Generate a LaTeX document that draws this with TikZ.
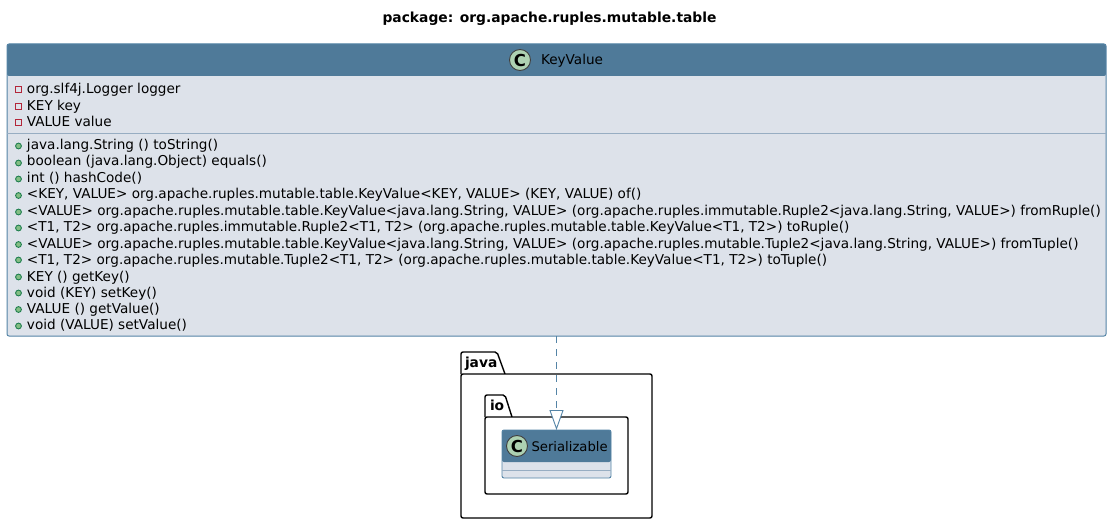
\documentclass[tikz,border=0pt]{standalone}
\usepackage{fontspec}
\setmainfont{DejaVu Sans}
\usepackage{tikz}
\usetikzlibrary{arrows.meta}
\definecolor{headblue}{HTML}{4F7A99}
\definecolor{bodyblue}{HTML}{DDE2EA}
\definecolor{lineblue}{HTML}{5484A6}
\definecolor{sepblue}{HTML}{97ADC2}
\definecolor{spotgreen}{HTML}{ADD1B2}
\definecolor{dotgreen}{HTML}{84BE84}
\definecolor{dotline}{HTML}{1F7F4F}
\definecolor{boxred}{HTML}{B3263A}
\begin{document}
\begin{tikzpicture}[x=1pt,y=-1pt]
	\tikzstyle{every node}=[inner sep=0pt, outer sep=0pt, font=\fontsize{13.6}{15}\selectfont]
	\tikzstyle{member}=[anchor=base west]
	\tikzstyle{pubdot}=[circle, minimum width=5.8pt, draw=dotline, fill=dotgreen, line width=.9pt]
	\tikzstyle{privbox}=[rectangle, minimum width=5.8pt, minimum height=5.8pt, draw=boxred, fill=bodyblue, line width=.8pt]
	\tikzstyle{spot}=[circle, minimum width=21pt, draw=black!75, fill=spotgreen, line width=.9pt, font=\fontsize{16.5}{15}\bfseries\selectfont]
	\tikzstyle{pkgbox}=[rectangle, draw=black, fill=white, rounded corners=2pt, line width=1.4pt]
	\tikzstyle{pkgtab}=[draw=black, fill=white, rounded corners=2pt, line width=1.4pt]
	\tikzstyle{pkgname}=[anchor=base west, font=\fontsize{13.8}{15}\bfseries\selectfont]
	\useasboundingbox (0,0) rectangle (1112,524);
	\draw (549.5,19) node (title) [font=\fontsize{13.85}{15}\bfseries\selectfont] {package: org.apache.ruples.mutable.table};
	% packages
	\draw[pkgtab] (461,374) -- (461,352) -- (497,352) -- (505,374);
	\draw (556.5,446) node (java) [pkgbox, minimum width=191pt, minimum height=144pt] {};
	\draw (465,367) node (javaname) [pkgname] {java};
	\draw[pkgtab] (485,417) -- (485,395) -- (505,395) -- (512,417);
	\draw (556.5,455.5) node (io) [pkgbox, minimum width=143pt, minimum height=77pt] {};
	\draw (490,410) node (ioname) [pkgname] {io};
	% classes
	\draw (556.5,454) node (serializable) [rectangle, draw=lineblue, fill=bodyblue, rounded corners=2pt, line width=.9pt, minimum width=109pt, minimum height=48pt,
		path picture={\fill[headblue] (path picture bounding box.north west) rectangle ([yshift=-32pt]path picture bounding box.north east);}] {};
	\draw (517,446) node (serspot) [spot] {C};
	\draw (531.5,451) node (sername) [member, font=\fontsize{13.2}{15}\selectfont] {Serializable};
	\coordinate (serl) at (502,470);
	\coordinate (serr) at (611,470);
	\draw[sepblue, line width=.7pt] (serl) -- (serr);
	\draw (556.5,190) node (keyvalue) [rectangle, draw=lineblue, fill=bodyblue, rounded corners=2pt, line width=1pt, minimum width=1099pt, minimum height=292pt,
		path picture={\fill[headblue] (path picture bounding box.north west) rectangle ([yshift=-32pt]path picture bounding box.north east);}] {};
	\draw (520,60) node (kvspot) [spot] {C};
	\draw (541,65) node (kvname) [member] {KeyValue};
	\coordinate (kvl) at (7,133);
	\coordinate (kvr) at (1106,133);
	\draw[sepblue, line width=.8pt] (kvl) -- (kvr);
	% fields
	\draw (18.5,89.5) node (d1) [privbox] {};
	\draw (18.5,106.5) node (d2) [privbox] {};
	\draw (18.5,122.5) node (d3) [privbox] {};
	\draw (27,93.5) node (f1) [member] {org.slf4j.Logger logger};
	\draw (27,110.5) node (f2) [member] {KEY key};
	\draw (27,126.5) node (f3) [member] {VALUE value};
	% methods
	\draw (18.5,146) node (p1) [pubdot] {};
	\draw (18.5,163) node (p2) [pubdot] {};
	\draw (18.5,179) node (p3) [pubdot] {};
	\draw (18.5,195.5) node (p4) [pubdot] {};
	\draw (18.5,212) node (p5) [pubdot] {};
	\draw (18.5,228) node (p6) [pubdot] {};
	\draw (18.5,244.5) node (p7) [pubdot] {};
	\draw (18.5,260) node (p8) [pubdot] {};
	\draw (18.5,277) node (p9) [pubdot] {};
	\draw (18.5,293) node (p10) [pubdot] {};
	\draw (18.5,309.5) node (p11) [pubdot] {};
	\draw (18.5,326) node (p12) [pubdot] {};
	\draw (27,150) node (m1) [member] {java.lang.String () toString()};
	\draw (27,166) node (m2) [member] {boolean (java.lang.Object) equals()};
	\draw (27,183) node (m3) [member] {int () hashCode()};
	\draw (27,199) node (m4) [member] {<KEY, VALUE> org.apache.ruples.mutable.table.KeyValue<KEY, VALUE> (KEY, VALUE) of()};
	\draw (27,215) node (m5) [member] {<VALUE> org.apache.ruples.mutable.table.KeyValue<java.lang.String, VALUE> (org.apache.ruples.immutable.Ruple2<java.lang.String, VALUE>) fromRuple()};
	\draw (27,232) node (m6) [member] {<T1, T2> org.apache.ruples.immutable.Ruple2<T1, T2> (org.apache.ruples.mutable.table.KeyValue<T1, T2>) toRuple()};
	\draw (27,248) node (m7) [member] {<VALUE> org.apache.ruples.mutable.table.KeyValue<java.lang.String, VALUE> (org.apache.ruples.mutable.Tuple2<java.lang.String, VALUE>) fromTuple()};
	\draw (27,264) node (m8) [member] {<T1, T2> org.apache.ruples.mutable.Tuple2<T1, T2> (org.apache.ruples.mutable.table.KeyValue<T1, T2>) toTuple()};
	\draw (27,281) node (m9) [member] {KEY () getKey()};
	\draw (27,297) node (m10) [member] {void (KEY) setKey()};
	\draw (27,313) node (m11) [member] {VALUE () getValue()};
	\draw (27,329) node (m12) [member] {void (VALUE) setValue()};
	% realization
	\draw[lineblue, line width=.9pt, dash pattern=on 7pt off 6pt, -{Triangle[open, fill=white, length=20pt, width=14pt]}] (keyvalue) -- (serializable);
\end{tikzpicture}
\end{document}
